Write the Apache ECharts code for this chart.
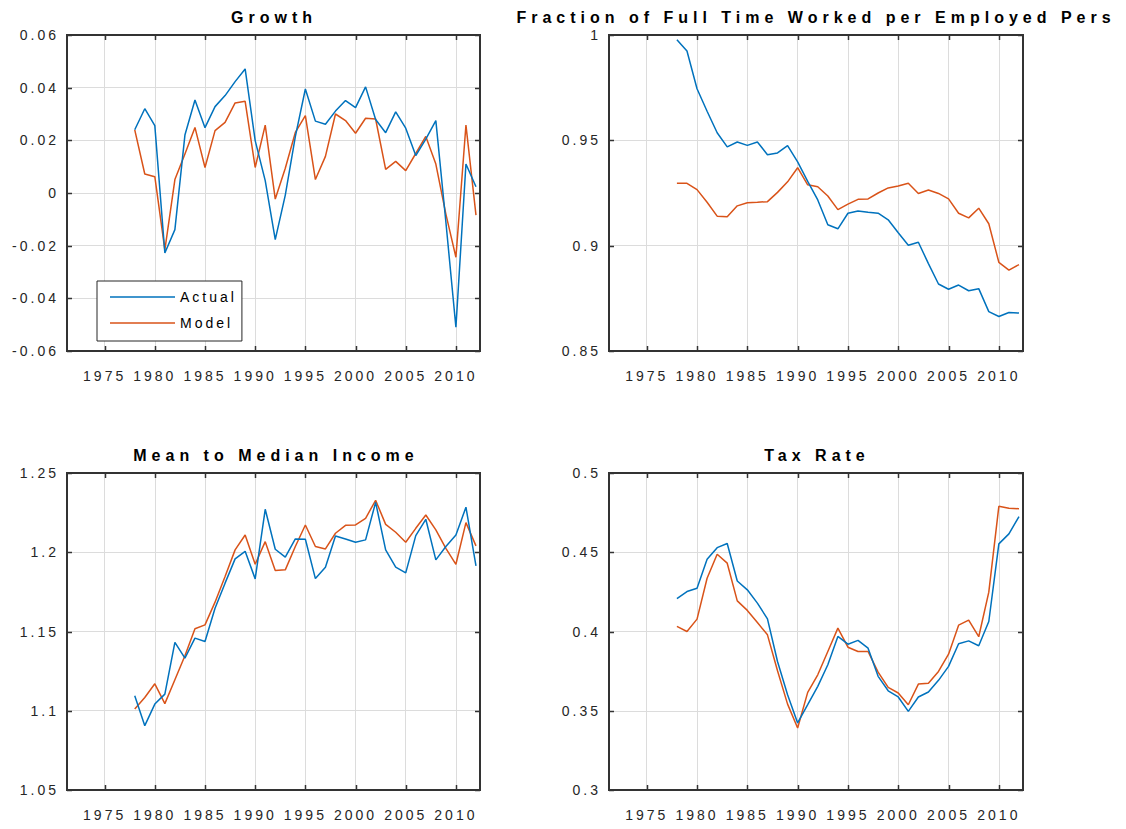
<!DOCTYPE html>
<html>
<head>
<meta charset="utf-8">
<script src="https://cdn.jsdelivr.net/npm/echarts@6/dist/echarts.min.js"></script>
<style>
  html, body { margin: 0; padding: 0; background: #fff; }
  #chart { width: 1126px; height: 829px; }
  #chart text { letter-spacing: 3px; }
  #chart text[style*="bold"] { letter-spacing: 5px; }
</style>
</head>
<body>
<div id="chart"></div>
<script>
const years = [1978,1979,1980,1981,1982,1983,1984,1985,1986,1987,1988,1989,1990,1991,1992,1993,1994,1995,1996,1997,1998,1999,2000,2001,2002,2003,2004,2005,2006,2007,2008,2009,2010,2011,2012];
const xTicks = [1975,1980,1985,1990,1995,2000,2005,2010];

const growthActual = [0.024,0.032,0.0256,-0.0228,-0.0139,0.022,0.0353,0.0248,0.0328,0.037,0.0423,0.0471,0.0199,0.0047,-0.0177,-0.0008,0.0214,0.0395,0.0273,0.0261,0.0311,0.0351,0.0324,0.0403,0.0279,0.0229,0.0308,0.0246,0.0142,0.0205,0.0275,-0.011,-0.051,0.011,0.0024];
const growthModel = [0.024,0.0072,0.0062,-0.0216,0.0051,0.0148,0.0249,0.0097,0.0237,0.0268,0.0342,0.0348,0.0097,0.0258,-0.0023,0.0094,0.023,0.0294,0.0051,0.0139,0.030,0.0275,0.0227,0.0284,0.0281,0.009,0.012,0.0085,0.015,0.0215,0.011,-0.008,-0.0244,0.0258,-0.0084];

const fracActual = [0.9978,0.9924,0.9745,0.9638,0.9536,0.9469,0.9492,0.9476,0.9492,0.9432,0.944,0.9475,0.9398,0.9305,0.9217,0.9099,0.908,0.9154,0.9165,0.9159,0.9154,0.9123,0.9061,0.9002,0.9016,0.8915,0.8818,0.8793,0.8813,0.8786,0.8796,0.8687,0.8664,0.8683,0.868];
const fracModel = [0.9296,0.9296,0.9266,0.9206,0.914,0.9137,0.9189,0.9204,0.9206,0.9209,0.9253,0.9303,0.937,0.9289,0.928,0.9236,0.9171,0.9197,0.922,0.9222,0.925,0.9274,0.9283,0.9296,0.9248,0.9264,0.9248,0.9222,0.9154,0.9132,0.9178,0.9104,0.8921,0.8884,0.891];

const incomeActual = [1.1095,1.0906,1.1042,1.1105,1.1431,1.1332,1.1458,1.1437,1.1647,1.1805,1.1958,1.2006,1.1832,1.2271,1.2019,1.1969,1.2084,1.2082,1.1834,1.1906,1.2103,1.2084,1.2063,1.2078,1.2315,1.2015,1.1906,1.187,1.2105,1.2208,1.1952,1.2036,1.2109,1.2284,1.1914];
const incomeModel = [1.1011,1.1084,1.117,1.1045,1.1196,1.1347,1.1517,1.1542,1.1685,1.1847,1.2015,1.2109,1.1924,1.2067,1.1885,1.1889,1.2036,1.2172,1.2036,1.2021,1.212,1.217,1.2172,1.2214,1.2328,1.2176,1.2126,1.2063,1.2151,1.2235,1.2141,1.2025,1.1924,1.2187,1.204];

const taxActual = [0.4208,0.4252,0.4273,0.4456,0.4529,0.4555,0.4319,0.4263,0.4179,0.408,0.3811,0.3601,0.3423,0.3538,0.3654,0.379,0.3969,0.392,0.3944,0.3895,0.3717,0.3626,0.3587,0.3496,0.3587,0.3618,0.3692,0.378,0.3923,0.3941,0.391,0.4063,0.4553,0.4616,0.4725];
const taxModel = [0.4032,0.4,0.4078,0.4336,0.4487,0.4431,0.4193,0.4133,0.4057,0.3979,0.3752,0.3542,0.3391,0.3616,0.3727,0.3874,0.4021,0.3901,0.3874,0.3874,0.3744,0.3647,0.3612,0.3538,0.3668,0.3673,0.3748,0.3857,0.404,0.4072,0.3967,0.4248,0.479,0.4777,0.4775];

const titles = ['Growth', 'Fraction of Full Time Worked per Employed Pers', 'Mean to Median Income', 'Tax Rate'];
const yRanges = [[-0.06, 0.06, 0.02], [0.85, 1, 0.05], [1.05, 1.25, 0.05], [0.3, 0.5, 0.05]];
const yTickValues = [
  [-0.06, -0.04, -0.02, 0, 0.02, 0.04, 0.06],
  [0.85, 0.9, 0.95, 1],
  [1.05, 1.1, 1.15, 1.2, 1.25],
  [0.3, 0.35, 0.4, 0.45, 0.5]
];
const panelActual = [growthActual, fracActual, incomeActual, taxActual];
const panelModel = [growthModel, fracModel, incomeModel, taxModel];

const FONT = 'Liberation Sans, Arial, Helvetica, sans-serif';
const AX = '#262626';
const BOX = '#333333';
const GRIDC = '#dcdcdc';
const BLUE = '#0072BD';
const ORANGE = '#D95319';
const XMIN = 1971.25, XMAX = 2012.4;
const TICK = 5;

const grids = [
  { left: 67, top: 35, width: 413, height: 316 },
  { left: 609, top: 35, width: 414, height: 316 },
  { left: 67, top: 473, width: 413, height: 317 },
  { left: 609, top: 473, width: 414, height: 317 }
];
const titlePos = [[274, 17], [816, 17], [276, 455], [817, 455]];

const xAxes = [], yAxes = [], series = [], graphics = [];
grids.forEach((g, i) => {
  const [ymin, ymax, yint] = yRanges[i];
  const xi = xAxes.length, yi = yAxes.length;
  // bottom x axis: labels + vertical grid lines
  xAxes.push({
    type: 'value', gridIndex: i, position: 'bottom', min: XMIN, max: XMAX,
    axisLine: { show: false, onZero: false },
    axisTick: { show: false, customValues: xTicks },
    axisLabel: { show: true, customValues: xTicks, margin: 18, color: AX, fontSize: 14, fontFamily: FONT,
                 formatter: v => String(v) },
    splitLine: { show: true, lineStyle: { color: GRIDC, width: 1 } }
  });
  // left y axis: labels + horizontal grid lines
  yAxes.push({
    type: 'value', gridIndex: i, position: 'left', min: ymin, max: ymax, interval: yint,
    axisLine: { show: false, onZero: false },
    axisTick: { show: false },
    axisLabel: { show: true, margin: 8, color: AX, fontSize: 14, fontFamily: FONT,
                 formatter: v => String(+v.toFixed(2)) },
    splitLine: { show: true, lineStyle: { color: GRIDC, width: 1 } }
  });
  series.push({
    name: 'Actual', type: 'line', xAxisIndex: xi, yAxisIndex: yi,
    data: years.map((y, k) => [y, panelActual[i][k]]),
    symbol: 'none', lineStyle: { color: BLUE, width: 1.5 }, itemStyle: { color: BLUE },
    animation: false, z: 3
  });
  series.push({
    name: 'Model', type: 'line', xAxisIndex: xi, yAxisIndex: yi,
    data: years.map((y, k) => [y, panelModel[i][k]]),
    symbol: 'none', lineStyle: { color: ORANGE, width: 1.5 }, itemStyle: { color: ORANGE },
    animation: false, z: 2
  });
  // inner tick marks on all four sides (MATLAB box style)
  series.push({
    type: 'custom', xAxisIndex: xi, yAxisIndex: yi, silent: true, z: 6, animation: false,
    data: xTicks.map(v => [v, ymin]),
    renderItem: (params, api) => {
      const v = api.value(0);
      const b = api.coord([v, ymin]), t = api.coord([v, ymax]);
      const x = Math.round(b[0]) + 0.5;
      return { type: 'group', children: [
        { type: 'line', shape: { x1: x, y1: b[1], x2: x, y2: b[1] - TICK }, style: { stroke: BOX, lineWidth: 1.5 } },
        { type: 'line', shape: { x1: x, y1: t[1], x2: x, y2: t[1] + TICK }, style: { stroke: BOX, lineWidth: 1.5 } }
      ] };
    }
  });
  series.push({
    type: 'custom', xAxisIndex: xi, yAxisIndex: yi, silent: true, z: 6, animation: false,
    data: yTickValues[i].map(v => [XMIN, v]),
    renderItem: (params, api) => {
      const v = api.value(1);
      const l = api.coord([XMIN, v]), r = api.coord([XMAX, v]);
      const y = Math.round(l[1]) + 0.5;
      return { type: 'group', children: [
        { type: 'line', shape: { x1: l[0], y1: y, x2: l[0] + TICK, y2: y }, style: { stroke: BOX, lineWidth: 1.5 } },
        { type: 'line', shape: { x1: r[0], y1: y, x2: r[0] - TICK, y2: y }, style: { stroke: BOX, lineWidth: 1.5 } }
      ] };
    }
  });
  graphics.push({
    type: 'text', x: titlePos[i][0], y: titlePos[i][1], silent: true,
    style: { text: titles[i], fill: '#000', fontSize: 16, fontWeight: 'bold', fontFamily: FONT,
             textAlign: 'center', textVerticalAlign: 'middle' }
  });
});

const chart = echarts.init(document.getElementById('chart'), null, { renderer: 'svg', width: 1126, height: 829 });
chart.setOption({
  animation: false,
  backgroundColor: '#fff',
  grid: grids.map(g => Object.assign({ show: true, z: 7, borderColor: BOX, borderWidth: 2, backgroundColor: 'transparent' }, g)),
  xAxis: xAxes,
  yAxis: yAxes,
  series: series,
  graphic: graphics,
  legend: {
    data: ['Actual', 'Model'], orient: 'vertical', left: 97, top: 281, z: 10,
    icon: 'rect', itemWidth: 65, itemHeight: 1.5, itemGap: 12,
    padding: [9, 23, 11, 13],
    borderColor: AX, borderWidth: 1, backgroundColor: '#fff',
    textStyle: { fontSize: 14, color: '#000', fontFamily: FONT },
    selectedMode: false
  }
});
</script>
</body>
</html>
